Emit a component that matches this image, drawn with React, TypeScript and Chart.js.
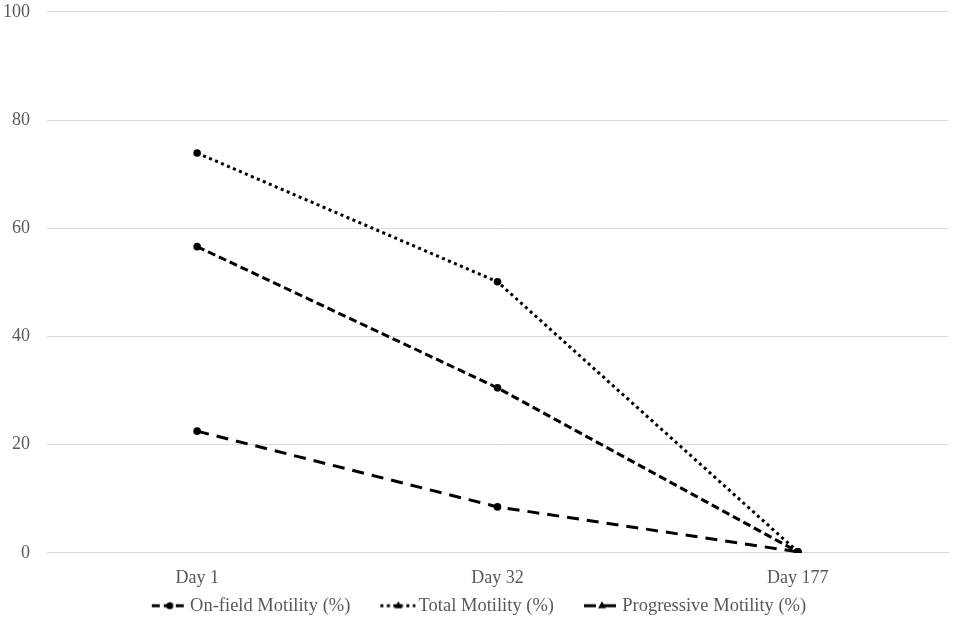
import React, { useRef, useEffect } from 'react'
import Chart from 'chart.js/auto'

const days = ['Day 1', 'Day 32', 'Day 177']
const onField = [56.6, 30.5, 0.2]
const totalMotility = [73.9, 50.1, 0.2]
const progressive = [22.5, 8.5, 0.2]

const FONT = "'Liberation Serif', 'Times New Roman', serif"
const TEXT = '#595959'

// legend box is wider than the visible marker, so the marker sits right next to its text
const LEGEND_PAD = 0
const BOX_W = 59 - LEGEND_PAD
const IMG_W = BOX_W + 14

// small canvas used as the legend marker: dashed line with a mark in the middle
function legendMarker(dash: number[], shape: 'circle' | 'triangle') {
  const c = document.createElement('canvas')
  c.width = IMG_W
  c.height = 12
  const ctx = c.getContext('2d')
  if (ctx) {
    const x0 = IMG_W - 36
    const cx = x0 + 18
    ctx.strokeStyle = '#000'
    ctx.lineWidth = 3
    ctx.setLineDash(dash)
    ctx.beginPath()
    ctx.moveTo(x0, 6)
    ctx.lineTo(IMG_W - 1, 6)
    ctx.stroke()
    ctx.fillStyle = '#000'
    ctx.beginPath()
    if (shape === 'circle') {
      ctx.arc(cx, 6, 3.5, 0, Math.PI * 2)
    } else {
      ctx.moveTo(cx, 1.5)
      ctx.lineTo(cx + 4, 8.5)
      ctx.lineTo(cx - 4, 8.5)
      ctx.closePath()
    }
    ctx.fill()
  }
  return c
}

export default function App() {
  const chartRef = useRef<HTMLCanvasElement>(null)

  useEffect(() => {
    if (!chartRef.current) return
    const markers = [
      legendMarker([8, 4], 'circle'),
      legendMarker([3, 3.5], 'triangle'),
      legendMarker([12, 8], 'triangle'),
    ]
    const common = {
      fill: false,
      borderColor: '#000',
      backgroundColor: '#000',
      borderWidth: 3,
      pointRadius: 3.8,
      pointBorderWidth: 0,
      pointBackgroundColor: '#000',
      tension: 0,
    }
    const chart = new Chart(chartRef.current, {
      type: 'line',
      data: {
        labels: days,
        datasets: [
          { ...common, label: 'On-field Motility (%)', data: onField, borderDash: [8, 4] },
          { ...common, label: 'Total Motility (%)', data: totalMotility, borderDash: [3, 3.5] },
          { ...common, label: 'Progressive Motility (%)', data: progressive, borderDash: [12, 8] },
        ],
      },
      options: {
        animation: false,
        responsive: true,
        maintainAspectRatio: false,
        layout: { padding: { left: -20, right: 9, top: 0, bottom: 0 } },
        scales: {
          x: {
            offset: true,
            grid: { display: false },
            border: { display: true, color: '#d9d9d9', width: 1 },
            ticks: { color: TEXT, font: { family: FONT, size: 18 }, padding: 7 },
          },
          y: {
            min: 0,
            max: 100,
            grid: { color: '#d9d9d9', drawTicks: false },
            border: { display: false },
            ticks: { stepSize: 20, color: TEXT, font: { family: FONT, size: 18 }, padding: 17 },
            afterFit: (axis) => {
              axis.width = 67
            },
          },
        },
        plugins: {
          tooltip: { enabled: false },
          legend: {
            position: 'bottom',
            labels: {
              color: TEXT,
              font: { family: FONT, size: 18.5 },
              usePointStyle: true,
              pointStyleWidth: BOX_W,
              padding: LEGEND_PAD,
              generateLabels: (ch) => {
                const items = Chart.defaults.plugins.legend.labels.generateLabels(ch)
                return items.map((it, i) => ({ ...it, pointStyle: markers[i] }))
              },
            },
          },
        },
      },
    })
    return () => {
      chart.destroy()
    }
  }, [])

  // the canvas runs a little past the page on both ends: the y axis reserves its tick
  // padding above the top gridline, and the legend keeps some space below itself
  return (
    <div style={{ position: 'fixed', left: 0, top: -16, width: 957, height: 641, background: '#fff' }}>
      <canvas ref={chartRef}></canvas>
    </div>
  )
}
